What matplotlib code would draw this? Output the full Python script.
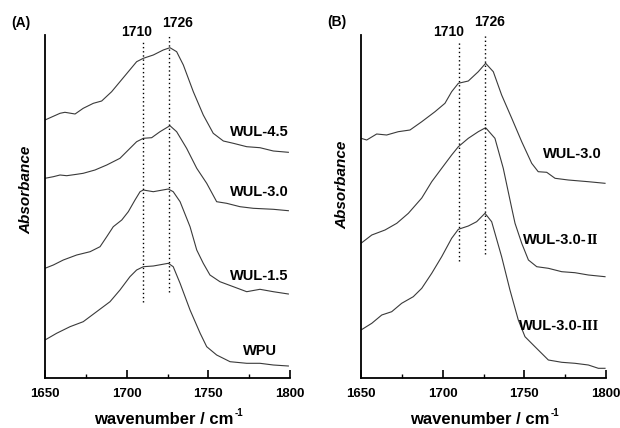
import matplotlib
matplotlib.use("Agg")
from matplotlib import pyplot as plt
from matplotlib.ticker import MultipleLocator

plt.rcParams['font.family'] = ['Liberation Sans', 'DejaVu Sans']
plt.rcParams['font.weight'] = 'bold'

# panel A spectra (wavenumber, absorbance in arbitrary units, offset stacked)
wn_45 = [1650, 1659.2, 1662.2, 1668.4, 1673.4, 1679.6, 1684.7, 1690.8, 1695.9, 1701,
         1706.1, 1710.2, 1716.3, 1722.4, 1726.5, 1730.6, 1734.7, 1740.8, 1746.9, 1753,
         1759.2, 1765.3, 1773.5, 1781.6, 1789.8, 1799]
ab_45 = [258, 264.7, 265.7, 264, 269.7, 274.7, 277, 286.3, 296.3, 306.3,
         316.3, 319.7, 323, 328, 330.3, 326.3, 313, 286.3, 263, 244.7,
         237, 234.7, 231.3, 230.3, 227, 225.7]

wn_30 = [1650, 1655.1, 1659.2, 1663.3, 1669.4, 1673.4, 1680.6, 1687.8, 1695.9, 1701,
         1706.1, 1710.2, 1715.3, 1720.4, 1726.5, 1730.6, 1736.7, 1742.9, 1749, 1755.1,
         1761.2, 1769.4, 1777.5, 1789.8, 1799]
ab_30 = [199.7, 201.3, 203, 202.3, 203.7, 204.7, 208, 213, 219.7, 228,
         236.3, 239.7, 240.3, 246.3, 252.3, 246.3, 229.7, 209.7, 194.7, 176.3,
         174.7, 171.3, 169.7, 168.7, 167.3]

wn_15 = [1650, 1655.1, 1661.2, 1669.4, 1677.6, 1683.7, 1687.8, 1691.8, 1697, 1701,
         1705.1, 1708.2, 1710.2, 1716.3, 1725.5, 1728.5, 1732.7, 1738.8, 1742.9, 1746.9,
         1751, 1757.1, 1765.3, 1773.5, 1781.6, 1789.8, 1799]
ab_15 = [109.7, 113, 118, 123, 126.3, 131.3, 141.3, 151.3, 158, 166.3,
         178, 186.3, 188, 186.3, 189, 186.3, 176.3, 151.3, 128, 114.7,
         103, 96.3, 91.3, 86.3, 88.7, 86.3, 84]

wn_wpu = [1650, 1657.1, 1665.3, 1673.4, 1681.6, 1689.8, 1695.9, 1702, 1706.1, 1710.2,
          1716.3, 1725.5, 1728.5, 1732.7, 1738.8, 1745, 1749, 1755.1, 1763.3, 1773.5,
          1781.6, 1789.8, 1799]
ab_wpu = [38, 44.7, 51.3, 56.3, 66.3, 76.3, 88, 101.3, 108, 111.3,
          112, 114.7, 111.3, 94.7, 68, 44.7, 31.3, 23, 16.3, 14.7,
          14.7, 13, 12]

# panel B spectra
wn_b30 = [1650, 1653.5, 1659.6, 1665.7, 1672.8, 1680, 1687.2, 1695.3, 1701.4, 1705.5,
          1709.6, 1715.7, 1721.8, 1726.3, 1731, 1736.1, 1742.3, 1748.4, 1754.5, 1758.5,
          1763.7, 1768.8, 1776.9, 1789.2, 1799.4]
ab_b30 = [239.7, 238, 244, 243, 246.3, 248, 256.3, 266.3, 274.7, 286.3,
          294.7, 297, 306.3, 314.7, 306.3, 283, 259.7, 236.3, 214.7, 206.3,
          205.7, 199.7, 198, 196.3, 194.7]

wn_b2 = [1650, 1656.6, 1664.7, 1671.9, 1679, 1687.2, 1693.3, 1699.4, 1705.5, 1709.6,
         1715.7, 1721.8, 1726.3, 1732, 1737.1, 1742.3, 1744.3, 1748.4, 1752.5, 1757.6,
         1764.7, 1772.9, 1781, 1789.2, 1799.4]
ab_b2 = [134.7, 143, 148, 154.7, 164.7, 180, 196.3, 209.7, 223, 231.3,
         239.7, 246.3, 250.3, 239.7, 209.7, 169.7, 154.7, 134.7, 118, 111.3,
         109.7, 106.3, 105.3, 103, 101.3]

wn_b3 = [1650, 1656.6, 1662.7, 1668.8, 1674.9, 1682, 1687.2, 1693.3, 1699.4, 1705.5,
         1709.6, 1715.7, 1720.8, 1725.9, 1730, 1736.1, 1741.2, 1746.3, 1750.4, 1756.5,
         1764.7, 1772.9, 1781, 1789.2, 1795.3, 1799.4]
ab_b3 = [48, 54.7, 63, 66.3, 74.7, 81.3, 89.7, 104.7, 121.3, 139.7,
         148.7, 152, 156.3, 164.7, 156.3, 121.3, 88, 58, 41.3, 31.3,
         18, 15.7, 14.7, 13, 9.7, 9.7]

peaks = [1710, 1726]
peak_lines_a = [(75.7, 336.3), (85.7, 346.3)]
peak_lines_b = [(117.3, 336.3), (124, 346.3)]

LINE = '#3a3a3a'


def style_axes(ax):
    ax.set_xlim(1650, 1800)
    ax.set_ylim(0, 343)
    ax.spines['top'].set_visible(False)
    ax.spines['right'].set_visible(False)
    ax.spines['left'].set_linewidth(1.3)
    ax.spines['bottom'].set_linewidth(1.3)
    ax.set_yticks([])
    ax.xaxis.set_major_locator(MultipleLocator(50))
    ax.xaxis.set_minor_locator(MultipleLocator(25))
    ax.tick_params(axis='x', which='major', direction='in', length=6, width=1.2,
                   labelsize=9.5, pad=7)
    ax.tick_params(axis='x', which='minor', direction='in', length=3, width=1.0)
    for lab in ax.get_xticklabels():
        lab.set_fontweight('bold')


def peak_marks(ax, spans, label_pos):
    for p, (y0, y1) in zip(peaks, spans):
        ax.plot([p, p], [y0, y1], color='black', lw=1.0, ls=(0, (1, 2)))
    for p, (x, y) in zip(peaks, label_pos):
        ax.text(x, y, str(p), ha='center', va='center', fontsize=10,
                fontweight='bold', clip_on=False)


fig = plt.figure(figsize=(6.2, 4.28), dpi=100)
axA = fig.add_axes([45 / 620, 1 - 378 / 428, 245 / 620, 343 / 428])
axB = fig.add_axes([361 / 620, 1 - 378 / 428, 245 / 620, 343 / 428])

for wn, ab in [(wn_45, ab_45), (wn_30, ab_30), (wn_15, ab_15), (wn_wpu, ab_wpu)]:
    axA.plot(wn, ab, color=LINE, lw=0.8)
style_axes(axA)
peak_marks(axA, peak_lines_a, [(1706.3, 346), (1731.4, 355)])
axA.text(1799, 246, 'WUL-4.5', ha='right', va='center', fontsize=10.5, fontweight='bold')
axA.text(1799, 186, 'WUL-3.0', ha='right', va='center', fontsize=10.5, fontweight='bold')
axA.text(1799, 102, 'WUL-1.5', ha='right', va='center', fontsize=10.5, fontweight='bold')
axA.text(1781.6, 27, 'WPU', ha='center', va='center', fontsize=10.5, fontweight='bold')

for wn, ab in [(wn_b30, ab_b30), (wn_b2, ab_b2), (wn_b3, ab_b3)]:
    axB.plot(wn, ab, color=LINE, lw=0.8)
style_axes(axB)
peak_marks(axB, peak_lines_b, [(1703.9, 346), (1729, 356)])
axB.text(1797.5, 224, 'WUL-3.0', ha='right', va='center', fontsize=10.5, fontweight='bold')
for x, y, roman in [(1788.5, 138, 'II'), (1785.5, 52, 'III')]:
    t = axB.text(x, y, 'WUL-3.0-', ha='right', va='center',
                 fontsize=10.5, fontweight='bold')
    axB.annotate(roman, xy=(1, 0.5), xycoords=t, xytext=(-0.6, 0),
                 textcoords='offset points', va='center', ha='left',
                 fontsize=10.5, fontweight='bold', family='Liberation Serif')

for xc in (167.5, 483.5):
    t = fig.text((xc - 4) / 620, 1 - 419 / 428, 'wavenumber / cm', ha='center',
                 va='center', fontsize=12, fontweight='bold')
    fig.axes[0].annotate('-1', xy=(1, 0.9), xycoords=t, xytext=(1, 0),
                         textcoords='offset points', ha='left', va='center',
                         fontsize=7, fontweight='bold', annotation_clip=False)

fig.text(21 / 620, 1 - 23 / 428, '(A)', ha='center', va='center', fontsize=10,
         fontweight='bold')
fig.text(337 / 620, 1 - 22 / 428, '(B)', ha='center', va='center', fontsize=10,
         fontweight='bold')
fig.text(26 / 620, 1 - 190 / 428, 'Absorbance', rotation=90, ha='center', va='center',
         fontsize=11, fontweight='bold', fontstyle='italic')
fig.text(342 / 620, 1 - 185 / 428, 'Absorbance', rotation=90, ha='center', va='center',
         fontsize=11, fontweight='bold', fontstyle='italic')

fig.savefig('out.png', dpi=100)
